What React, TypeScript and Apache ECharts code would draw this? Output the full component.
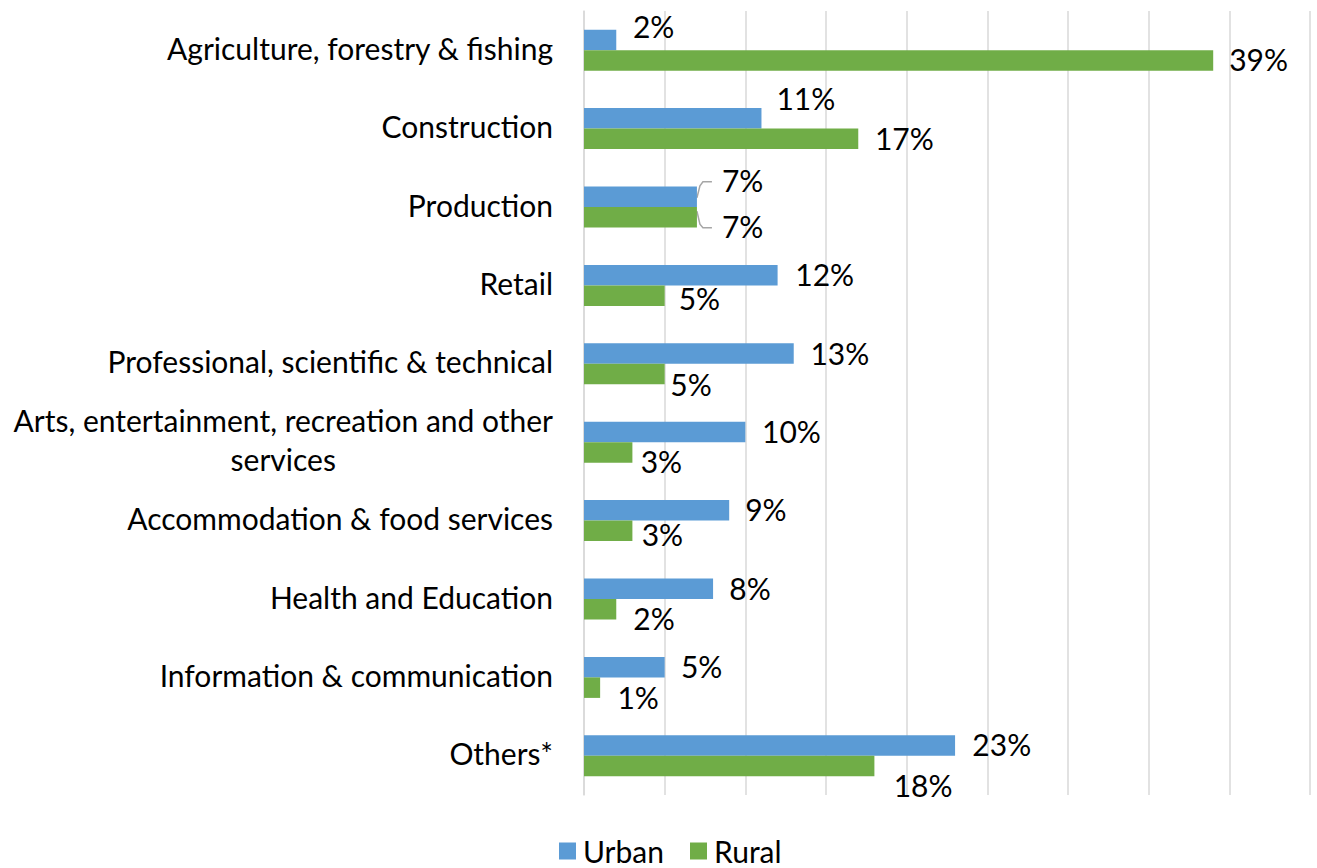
import React, { useEffect, useRef } from "react";
import * as echarts from "echarts";

const CATEGORIES = [
  "Agriculture, forestry & fishing",
  "Construction",
  "Production",
  "Retail",
  "Professional, scientific & technical",
  "Arts, entertainment, recreation and other services",
  "Accommodation & food services",
  "Health and Education",
  "Information & communication",
  "Others*",
];
const URBAN = [2, 11, 7, 12, 13, 10, 9, 8, 5, 23];
const RURAL = [39, 17, 7, 5, 5, 3, 3, 2, 1, 18];

// label nudges [dx, dy] in px (styling only)
const URBAN_LABEL_NUDGE = [
  [0.7, -14], [-1, -20.5], [9, -17], [1.7, -1], [0.7, -1], [0.7, -1], [0, -1], [0.3, -0.7], [0.3, -0.7], [1.3, -2],
];
const RURAL_LABEL_NUDGE = [
  [0, -1], [0.7, -0.5], [9, 8.5], [-2, 2.5], [-10.3, 9.5], [-7.7, 8.7], [-6.7, 2.7], [1, 9], [1.3, 9.3], [3.3, 19],
];

const FONT = "Lato";
const FS = 30;
const TXT = "#000000";

export default function App() {
  const ref = useRef<HTMLDivElement>(null);
  useEffect(() => {
    if (!ref.current) return;
    const chart = echarts.init(ref.current, null, { renderer: "svg" });
    const mk = (vals: number[], nudge: number[][]) =>
      vals.map((v, i) => ({ value: v, label: { offset: nudge[i] } }));
    chart.setOption({
      animation: false,
      grid: { left: 584, right: 7, top: 11, bottom: 73, containLabel: false },
      legend: {
        left: 554,
        top: 831,
        itemWidth: 17,
        itemHeight: 17,
        itemGap: 26,
        icon: "rect",
        textStyle: { fontFamily: FONT, fontSize: FS, color: TXT, padding: [0, 0, 0, 2] },
        data: ["Urban", "Rural"],
      },
      xAxis: {
        type: "value",
        min: 0,
        max: 45,
        interval: 5,
        axisLabel: { show: false },
        axisLine: { show: false },
        axisTick: { show: false },
        splitLine: { show: true, lineStyle: { color: "#d9d9d9", width: 1.5 } },
      },
      yAxis: {
        type: "category",
        inverse: true,
        data: CATEGORIES,
        axisLine: { show: true, lineStyle: { color: "#d9d9d9", width: 1.5 } },
        axisTick: { show: false },
        axisLabel: {
          margin: 31,
          fontFamily: FONT,
          fontSize: FS,
          color: TXT,
          padding: [0, 0, 5, 0],
          formatter: (v: string) =>
            v === "Arts, entertainment, recreation and other services"
              ? "{c|Arts, entertainment, recreation and other}\n{c|services}"
              : v,
          rich: {
            c: { align: "center", fontFamily: FONT, fontSize: FS, color: TXT, lineHeight: 39 },
          },
        },
      },
      series: [
        {
          name: "Urban",
          type: "bar",
          data: mk(URBAN, URBAN_LABEL_NUDGE),
          barGap: "0%",
          barCategoryGap: "47.7%",
          itemStyle: { color: "#5b9bd5" },
          label: {
            show: true,
            position: "right",
            distance: 16,
            formatter: "{c}%",
            fontFamily: FONT,
            fontSize: FS,
            color: TXT,
          },
        },
        {
          name: "Rural",
          type: "bar",
          data: mk(RURAL, RURAL_LABEL_NUDGE),
          barGap: "0%",
          barCategoryGap: "47.7%",
          itemStyle: { color: "#70ad47" },
          label: {
            show: true,
            position: "right",
            distance: 16,
            formatter: "{c}%",
            fontFamily: FONT,
            fontSize: FS,
            color: TXT,
          },
        },
      ],
    });

    // leader lines for the Production labels
    const idx = 2;
    const c0 = chart.convertToPixel({ gridIndex: 0 }, [URBAN[idx], CATEGORIES[idx]]) as number[];
    const c1 = chart.convertToPixel({ gridIndex: 0 }, [URBAN[idx], CATEGORIES[idx + 1]]) as number[];
    const band = Math.abs(c1[1] - c0[1]);
    const half = (band * (1 - 0.477)) / 4;
    const x = c0[0];
    const uc = c0[1] - half;
    const xr = (chart.convertToPixel({ gridIndex: 0 }, [RURAL[idx], CATEGORIES[idx]]) as number[])[0];
    const rc = c0[1] + half;
    const lineStyle = { stroke: "#a6a6a6", lineWidth: 1.5, fill: null };
    chart.setOption({
      graphic: [
        {
          type: "polyline",
          silent: true,
          shape: { points: [[x, uc + 1], [x + 3, uc - 11], [x + 6, uc - 15], [x + 15, uc - 15]] },
          style: lineStyle,
        },
        {
          type: "polyline",
          silent: true,
          shape: { points: [[xr, rc - 6], [xr + 3, rc + 7], [xr + 6, rc + 10.5], [xr + 15, rc + 10.5]] },
          style: lineStyle,
        },
      ],
    });
    return () => chart.dispose();
  }, []);
  return (
    <div
      ref={ref}
      style={{ position: "fixed", left: 0, top: 0, width: 1317, height: 868, background: "#fff" }}
    />
  );
}
